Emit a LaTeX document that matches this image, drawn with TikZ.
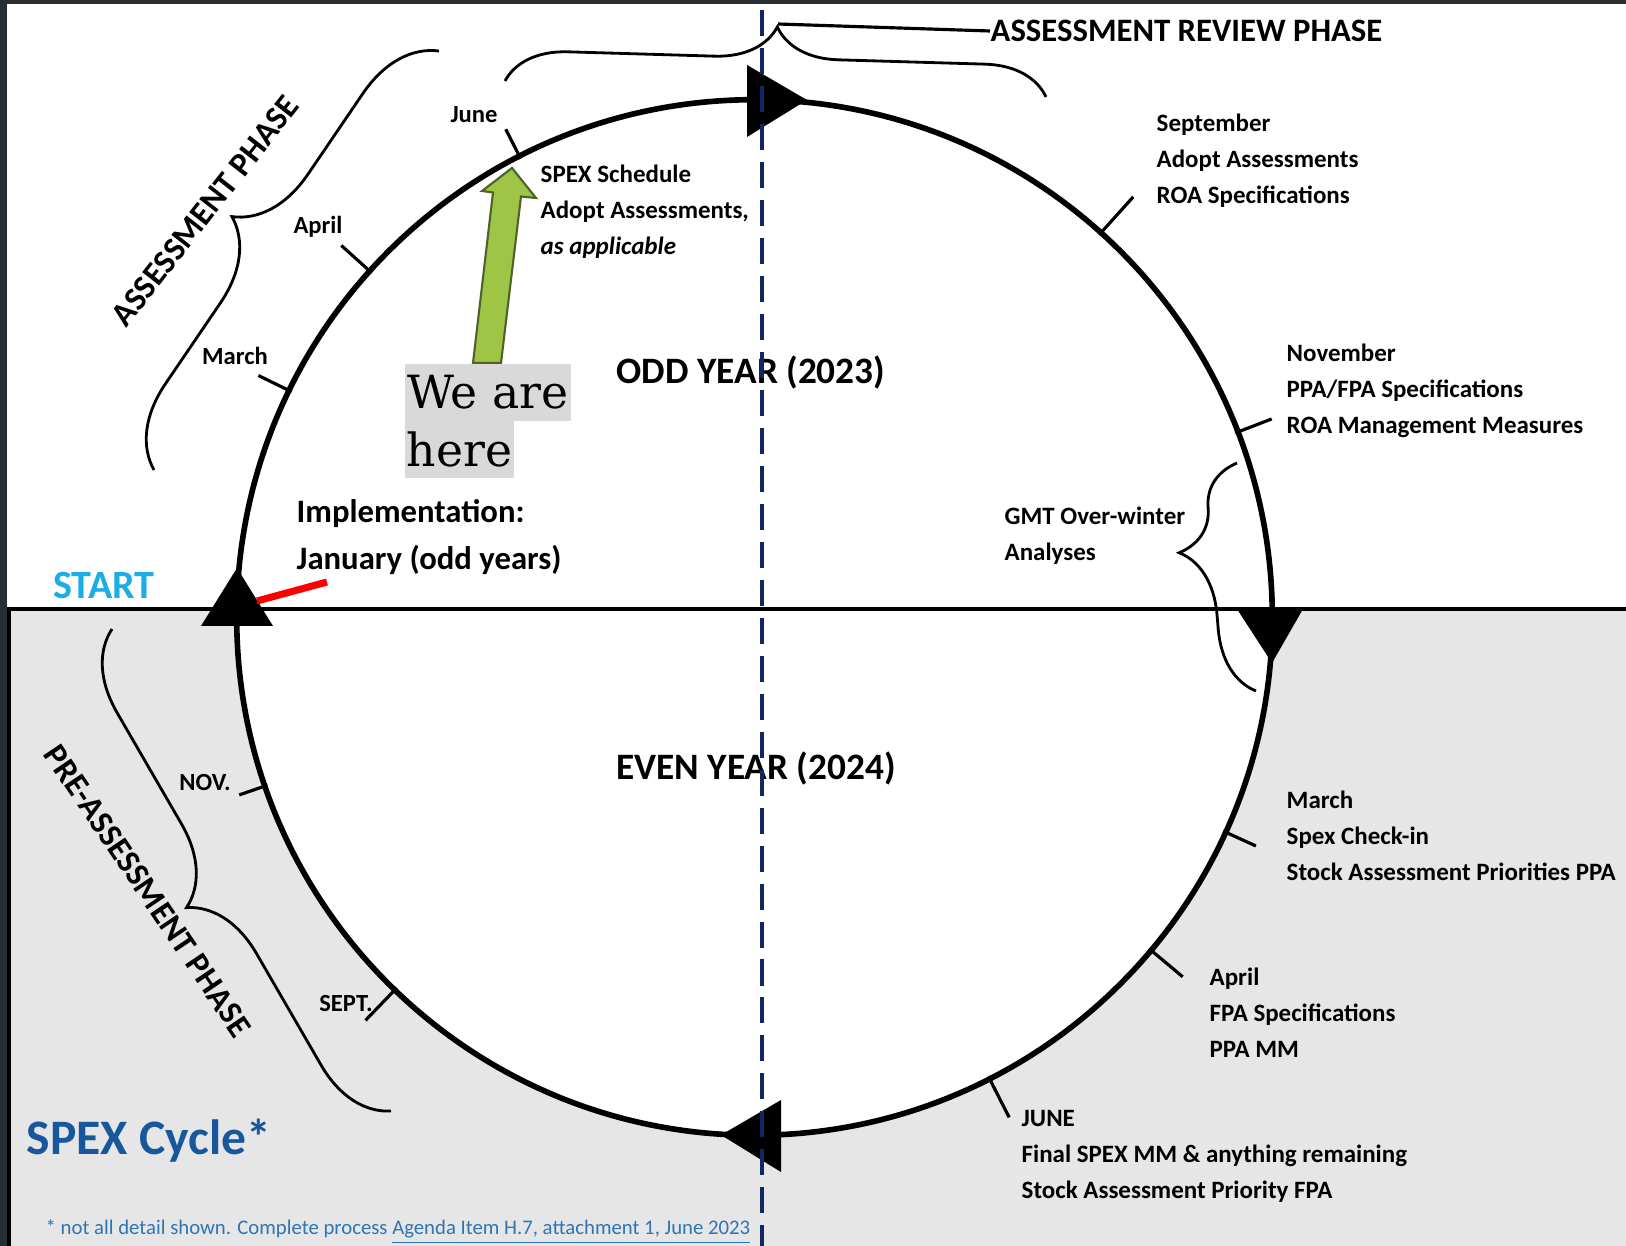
\documentclass[tikz,border=0pt]{standalone}
\usepackage{fontspec}
\setmainfont{Carlito}
\newfontfamily\slabfont{DejaVu Serif}
\usetikzlibrary{decorations.pathreplacing}

\definecolor{framegray}{RGB}{41,46,51}
\definecolor{lowgray}{RGB}{230,230,230}
\definecolor{navydash}{RGB}{16,40,98}
\definecolor{startblue}{RGB}{27,174,230}
\definecolor{cycleblue}{RGB}{25,87,157}
\definecolor{noteblue}{RGB}{46,117,182}
\definecolor{arrowgreen}{RGB}{158,197,70}
\definecolor{arrowedge}{RGB}{79,98,40}
\definecolor{heregray}{RGB}{217,217,217}

\tikzset{
  lbl/.style={font=\bfseries\fontsize{7.1}{10.2}\selectfont, inner sep=0, align=left, anchor=west},
  mon/.style={font=\bfseries\fontsize{7}{8}\selectfont, inner sep=0},
  yr/.style={font=\bfseries\fontsize{10.6}{13}\selectfont, inner sep=0},
  phase/.style={font=\bfseries\fontsize{9.5}{11}\selectfont, inner sep=0},
  monthtick/.style={line width=0.9pt},
  brc/.style={decorate, decoration={brace, amplitude=#1}, line width=0.8pt},
  herebox/.style={fill=heregray, font=\slabfont\fontsize{13}{15}\selectfont, inner xsep=0.02cm, inner ysep=0, anchor=north west, minimum height=0.57cm},
}

\begin{document}
\begin{tikzpicture}[x=0.01cm,y=-0.01cm]
\useasboundingbox (0,0) rectangle (1626,1246);

% background
\fill[framegray] (0,0) rectangle (1626,1246);
\fill[white] (7,4) rectangle (1626,609);
\fill[lowgray] (7,609) rectangle (1626,1246);
\draw[line width=1.1pt] (9,609) -- (9,1246);

\coordinate (ctr) at (754.5,617.5);
\fill[white] (ctr) circle (5.175cm);
\draw[line width=1pt] (7,609) -- (1626,609);
\draw[line width=1.6pt] (ctr) circle (5.175cm);

% month ticks
\foreach \a/\r in {-154/552,-138/556,-117/548,-48/566,-21/554,24.5/551,40/559,63/561,161/545,134/560}
  \draw[monthtick] ([shift={(\a:515)}]ctr) -- ([shift={(\a:\r)}]ctr);

% direction triangles
\fill (747,65) -- (747,137) -- (807,100) -- cycle;
\fill (1237,609) -- (1303,609) -- (1272,663) -- cycle;
\fill (781,1100) -- (781,1172) -- (721,1135) -- cycle;
\fill (201,626) -- (273,626) -- (237,568) -- cycle;

\draw[red, line width=2pt] (257,601) -- (327,582);

% braces
\draw[brc=0.78cm] (154,470) -- (439,51);
\draw[brc=0.62cm] (505,81) -- (1046,97);
\draw[brc=0.65cm, decoration={aspect=0.63}] (1256,691) -- (1237,463);
\draw[brc=0.75cm] (391,1111) -- (112,629);

\node[phase, rotate=52] (assess) at (205,211) {ASSESSMENT PHASE};
\node[phase, rotate=-56] (preassess) at (148,891) {PRE-ASSESSMENT PHASE};
\node[font=\bfseries\fontsize{9.3}{11}\selectfont, inner sep=0, anchor=west] (review) at (990,31) {ASSESSMENT REVIEW PHASE};
\coordinate (revtip) at (778,24);
\draw[line width=0.9pt] (revtip) -- (review.west);

% we are here
\filldraw[fill=arrowgreen, draw=arrowedge, line width=0.6pt] (473,363) -- (493,192.5) -- (482,191) -- (512,168) -- (536,198) -- (521,196.5) -- (501,363) -- cycle;
\node[herebox, minimum width=1.66cm] (weare) at (404,363) {We are};
\node[herebox, minimum width=1.02cm] (here) at (404,420) {here};

% month labels
\node[mon] (marchA) at (235,356) {March};
\node[mon] (aprilA) at (318,227) {April};
\node[mon] (juneA) at (474,115) {June};
\node[mon] (novB) at (205,783) {NOV.};
\node[mon] (septB) at (346,1004) {SEPT.};

\node[lbl] (sep) at (1156,161) {September\\Adopt Assessments\\ROA Specifications};
\node[lbl] (nov) at (1286,391) {November\\PPA/FPA Specifications\\ROA Management Measures};
\node[lbl] (mar) at (1286,836) {March\\Spex Check-in\\Stock Assessment Priorities PPA};
\node[lbl] (apr) at (1209,1013) {April\\FPA Specifications\\PPA MM};
\node[lbl] (jun) at (1021,1156) {JUNE\\Final SPEX MM \& anything remaining\\Stock Assessment Priority FPA};
\node[lbl] (spex) at (540,212) {SPEX Schedule\\Adopt Assessments,\\\textit{as applicable}};
\node[lbl] (gmt) at (1004,536) {GMT Over-winter\\Analyses};

\node[yr] (odd) at (751,372) {ODD YEAR (2023)};
\node[yr] (even) at (756,768) {EVEN YEAR (2024)};
\node[font=\bfseries\fontsize{9.3}{13.4}\selectfont, inner sep=0, align=left, anchor=west] (impl) at (296,537) {Implementation:\\January (odd years)};

\node[font=\bfseries\fontsize{11.4}{13}\selectfont, text=startblue, inner sep=0] (start) at (104,585) {START};
\node[font=\bfseries\fontsize{14.1}{16}\selectfont, text=cycleblue, inner sep=0, anchor=west] (spexcycle) at (26,1141) {SPEX Cycle*};
\node[font=\fontsize{5.9}{7}\selectfont, text=noteblue, inner sep=0, anchor=west] (note) at (45,1232) {* not all detail shown. Complete process \underline{Agenda Item H.7, attachment 1, June 2023}};

\draw[navydash, line width=1.4pt, dash pattern=on 7.4pt off 3.4pt] (762,10) -- (762,1246);

\end{tikzpicture}
\end{document}
